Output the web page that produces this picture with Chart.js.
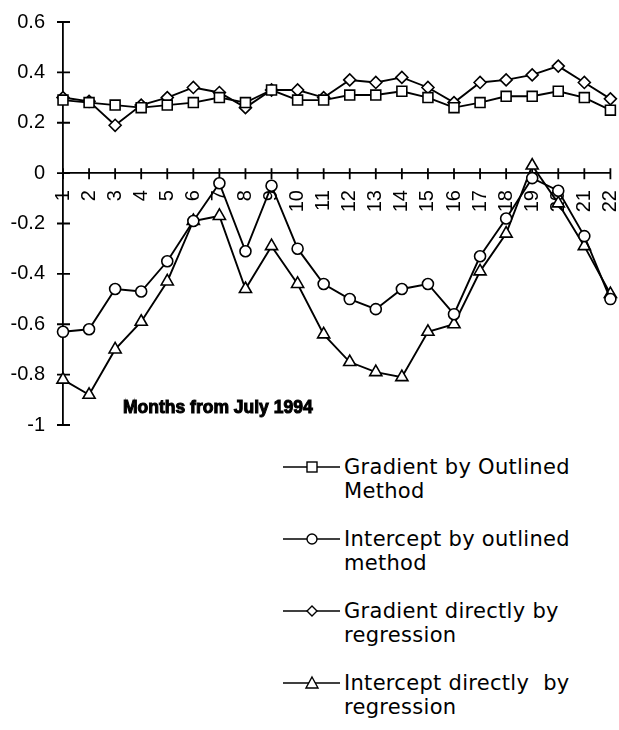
<!DOCTYPE html>
<html>
<head>
<meta charset="utf-8">
<script src="https://cdn.jsdelivr.net/npm/chart.js@4.4.1/dist/chart.umd.min.js"></script>
<style>
  body { margin: 0; background: #fff; }
  #wrap { position: relative; width: 619px; height: 730px; }
  #chartBox { position: absolute; left: 0; top: 0; width: 619px; height: 440px; }
  .item { position: absolute; left: 0; width: 619px; height: 50px; }
  .item svg { position: absolute; left: 280px; top: 0; }
  .item .txt { position: absolute; left: 344px; top: 0; font: 21px "DejaVu Sans", sans-serif; letter-spacing: 0.3px; line-height: 24px; color: #000; white-space: pre; }
</style>
</head>
<body>
<div id="wrap">
  <div id="chartBox"><canvas id="lineChart"></canvas></div>
  <div id="legend"></div>
</div>
<script>
const months = ['1','2','3','4','5','6','7','8','9','10','11','12','13','14','15','16','17','18','19','20','21','22'];

const gradientOutlined = [0.29, 0.28, 0.27, 0.26, 0.27, 0.28, 0.30, 0.28, 0.33, 0.29, 0.29,
                          0.31, 0.31, 0.325, 0.30, 0.26, 0.28, 0.305, 0.305, 0.325, 0.30, 0.25];
const interceptOutlined = [-0.63, -0.62, -0.46, -0.47, -0.35, -0.19, -0.04, -0.31, -0.05, -0.30, -0.44,
                           -0.50, -0.54, -0.46, -0.44, -0.56, -0.33, -0.18, -0.02, -0.07, -0.25, -0.50];
const gradientRegression = [0.30, 0.285, 0.19, 0.27, 0.30, 0.34, 0.32, 0.26, 0.33, 0.33, 0.30,
                            0.37, 0.36, 0.38, 0.34, 0.28, 0.36, 0.37, 0.39, 0.425, 0.36, 0.295];
const interceptRegression = [-0.82, -0.88, -0.70, -0.59, -0.43, -0.19, -0.17, -0.46, -0.29, -0.44, -0.64,
                             -0.75, -0.79, -0.81, -0.63, -0.60, -0.39, -0.24, 0.03, -0.12, -0.29, -0.48];

const seriesNames = [
    'Gradient by Outlined\nMethod',
    'Intercept by outlined\nmethod',
    'Gradient directly by\nregression',
    'Intercept directly  by\nregression'
];

const axisTitle = 'Months from July 1994';

function makeSet(label, data, style, radius) {
    return {
        label: label,
        data: data,
        borderColor: '#000',
        borderWidth: 1.9,
        backgroundColor: '#fff',
        pointStyle: style,
        pointRadius: radius,
        pointBorderWidth: 1.6,
        pointBackgroundColor: '#fff',
        pointBorderColor: '#000',
        tension: 0,
        fill: false
    };
}

// drop the label overflow padding so the layout padding alone places the plot
function noPad(scale) {
    scale.paddingLeft = 0;
    scale.paddingRight = 0;
    scale.paddingTop = 0;
    scale.paddingBottom = 0;
}

// tick marks that cross both axis lines, like the original
const crossTicks = {
    id: 'crossTicks',
    beforeDatasetsDraw(chart) {
        const ctx = chart.ctx;
        const x = chart.scales.x, y = chart.scales.y;
        const left = chart.chartArea.left;
        const zero = y.getPixelForValue(0);
        ctx.save();
        ctx.strokeStyle = '#000';
        ctx.lineWidth = 1.8;
        ctx.beginPath();
        y.ticks.forEach(t => {
            const py = y.getPixelForValue(t.value);
            ctx.moveTo(left - 6, py);
            ctx.lineTo(left + 7, py);
        });
        x.ticks.forEach((t, i) => {
            const px = x.getPixelForTick(i);
            ctx.moveTo(px, zero - 5);
            ctx.lineTo(px, zero + 6);
        });
        ctx.stroke();

        ctx.font = 'bold 17.5px "Liberation Sans", Arial, sans-serif';
        ctx.fillStyle = '#000';
        ctx.strokeStyle = '#000';
        ctx.lineWidth = 1;
        ctx.textBaseline = 'middle';
        ctx.fillText(axisTitle, left + 60, chart.chartArea.bottom - 17);
        ctx.strokeText(axisTitle, left + 60, chart.chartArea.bottom - 17);
        ctx.restore();
    }
};

const ctx = document.getElementById('lineChart').getContext('2d');
const lineChart = new Chart(ctx, {
    type: 'line',
    data: {
        labels: months,
        datasets: [
            makeSet(seriesNames[0], gradientOutlined, 'rect', 7),
            makeSet(seriesNames[1], interceptOutlined, 'circle', 5.5),
            makeSet(seriesNames[2], gradientRegression, 'rectRot', 6),
            makeSet(seriesNames[3], interceptRegression, 'triangle', 7)
        ]
    },
    options: {
        responsive: true,
        maintainAspectRatio: false,
        animation: false,
        layout: { padding: { left: 0, right: 6, top: 22, bottom: 15 } },
        plugins: {
            legend: { display: false },
            tooltip: { enabled: false }
        },
        scales: {
            x: {
                type: 'category',
                position: { y: 0 },
                offset: false,
                grid: { display: false, drawTicks: false },
                border: { display: true, color: '#000', width: 1.8 },
                afterFit: noPad,
                ticks: {
                    color: '#000',
                    font: { family: '"Liberation Sans", Arial, sans-serif', size: 20 },
                    minRotation: 90,
                    maxRotation: 90,
                    autoSkip: false,
                    padding: 17
                }
            },
            y: {
                min: -1,
                max: 0.6,
                grid: { display: false, drawTicks: false },
                border: { display: true, color: '#000', width: 1.8 },
                afterFit: function (scale) { scale.width = 63; noPad(scale); },
                ticks: {
                    stepSize: 0.2,
                    color: '#000',
                    font: { family: '"Liberation Sans", Arial, sans-serif', size: 20 },
                    padding: 18,
                    callback: function (v) { return String(+Number(v).toFixed(1)); }
                }
            }
        }
    },
    plugins: [crossTicks]
});

// legend below the plot, built from the datasets
function markerSvg(style) {
    const cx = 32, cy = 12;
    let shape = '';
    if (style === 'rect') {
        shape = '<rect x="' + (cx - 5) + '" y="' + (cy - 5) + '" width="10" height="10"/>';
    } else if (style === 'circle') {
        shape = '<circle cx="' + cx + '" cy="' + cy + '" r="5"/>';
    } else if (style === 'rectRot') {
        shape = '<polygon points="' + cx + ',' + (cy - 5) + ' ' + (cx + 5) + ',' + cy + ' ' + cx + ',' + (cy + 5) + ' ' + (cx - 5) + ',' + cy + '"/>';
    } else {
        shape = '<polygon points="' + cx + ',' + (cy - 6) + ' ' + (cx + 6) + ',' + (cy + 5) + ' ' + (cx - 6) + ',' + (cy + 5) + '"/>';
    }
    return '<svg width="62" height="24"><line x1="3" y1="' + cy + '" x2="60" y2="' + cy +
        '" stroke="#000" stroke-width="1.4"/><g fill="#fff" stroke="#000" stroke-width="1.4">' + shape + '</g></svg>';
}

const legend = document.getElementById('legend');
lineChart.data.datasets.forEach(function (ds, i) {
    const item = document.createElement('div');
    item.className = 'item';
    item.style.top = (455 + 72 * i) + 'px';
    item.innerHTML = markerSvg(ds.pointStyle) + '<div class="txt">' + ds.label + '</div>';
    legend.appendChild(item);
});
</script>
</body>
</html>
